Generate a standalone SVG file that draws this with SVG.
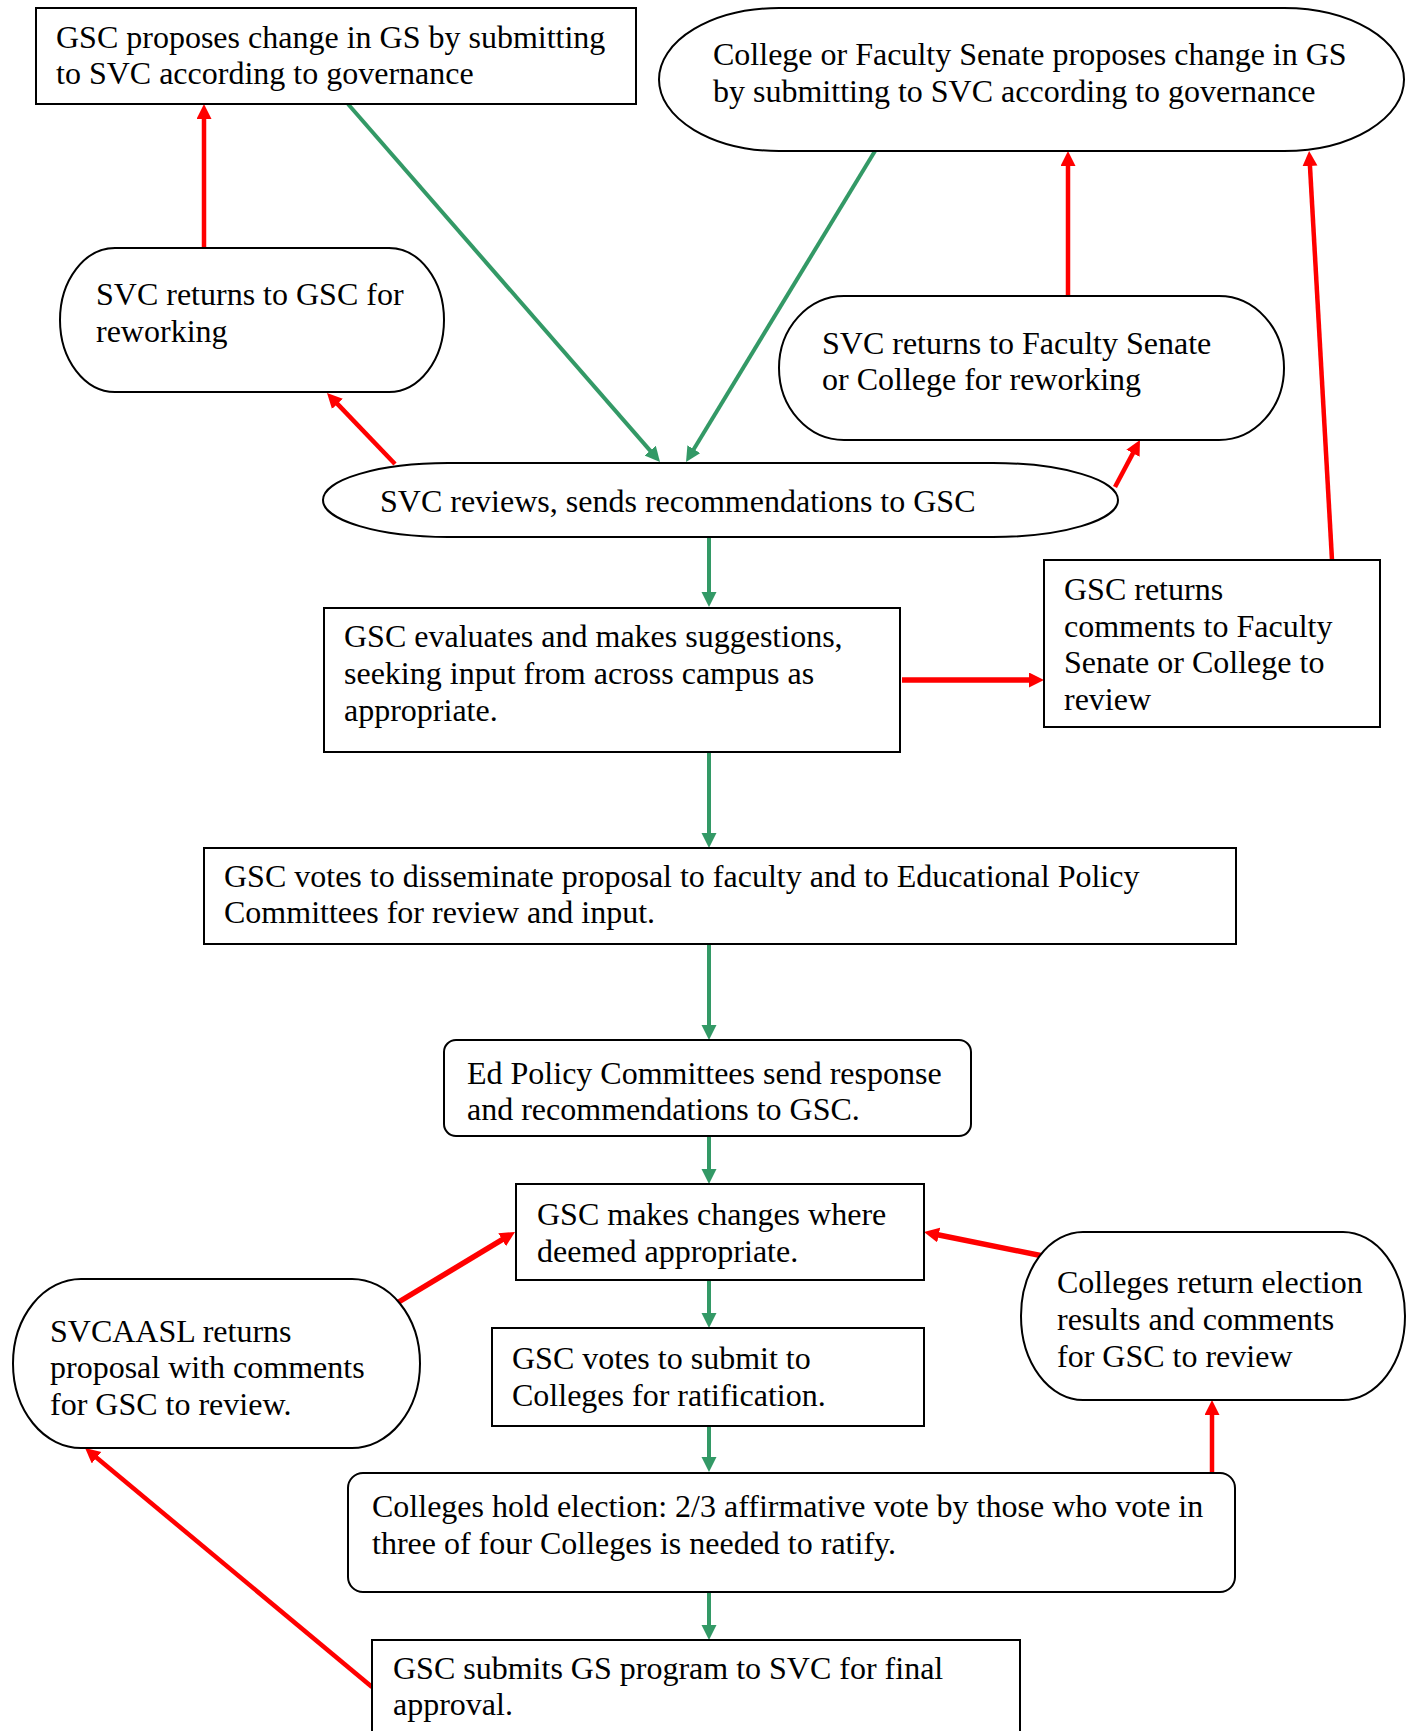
<svg xmlns="http://www.w3.org/2000/svg" width="1415" height="1731" viewBox="0 0 1415 1731">
<style>
.n{fill:#fff;stroke:#000;stroke-width:2}
text{font-family:"Liberation Serif","Times New Roman",serif;font-size:32px;fill:#000}
.g{stroke:#339966;stroke-width:4;fill:none}
.r{stroke:#ff0000;stroke-width:4.5;fill:none}
.rt{stroke:#ff0000;stroke-width:5.5;fill:none}
</style>
<defs>
<marker id="ag" markerUnits="userSpaceOnUse" markerWidth="16" markerHeight="16" refX="1" refY="7.5" orient="auto" viewBox="0 0 16 16"><path d="M0,0 L15,7.5 L0,15 z" fill="#339966"/></marker>
<marker id="ar" markerUnits="userSpaceOnUse" markerWidth="16" markerHeight="16" refX="1" refY="7.5" orient="auto" viewBox="0 0 16 16"><path d="M0,0 L15,7.5 L0,15 z" fill="#ff0000"/></marker>
</defs>
<rect width="1415" height="1731" fill="#fff"/>
<g id="connectors">
<line class="g" x1="348" y1="104" x2="650.8" y2="451.4" marker-end="url(#ag)"/>
<line class="g" x1="875" y1="151" x2="693.3" y2="450" marker-end="url(#ag)"/>
<line class="g" x1="709" y1="537" x2="709" y2="593" marker-end="url(#ag)"/>
<line class="g" x1="709" y1="752" x2="709" y2="834" marker-end="url(#ag)"/>
<line class="g" x1="709" y1="944" x2="709" y2="1026" marker-end="url(#ag)"/>
<line class="g" x1="709" y1="1137" x2="709" y2="1170" marker-end="url(#ag)"/>
<line class="g" x1="709" y1="1280" x2="709" y2="1314" marker-end="url(#ag)"/>
<line class="g" x1="709" y1="1426" x2="709" y2="1458" marker-end="url(#ag)"/>
<line class="g" x1="709" y1="1592" x2="709" y2="1626" marker-end="url(#ag)"/>
<line class="r" x1="204" y1="248" x2="204" y2="118" marker-end="url(#ar)"/>
<line class="r" x1="395" y1="464" x2="336.7" y2="403.1" marker-end="url(#ar)"/>
<line class="r" x1="1115" y1="487" x2="1133.4" y2="452.4" marker-end="url(#ar)"/>
<line class="r" x1="1068" y1="296" x2="1068" y2="165" marker-end="url(#ar)"/>
<line class="r" x1="1332" y1="560" x2="1309.9" y2="165" marker-end="url(#ar)"/>
<line class="rt" x1="902" y1="680" x2="1030" y2="680" marker-end="url(#ar)"/>
<line class="rt" x1="397" y1="1303" x2="503" y2="1239.2" marker-end="url(#ar)"/>
<line class="rt" x1="1043" y1="1256" x2="937.7" y2="1234.8" marker-end="url(#ar)"/>
<line class="r" x1="1212" y1="1472" x2="1212" y2="1414" marker-end="url(#ar)"/>
<line class="r" x1="372" y1="1687" x2="95.8" y2="1457" marker-end="url(#ar)"/>
</g>
<g id="n1">
<rect class="n" x="36" y="8" width="600" height="96"/>
<text x="56" y="48">GSC proposes change in GS by submitting</text>
<text x="56" y="84">to SVC according to governance</text>
</g>
<g id="n2">
<rect class="n" x="659" y="8" width="745" height="143" rx="120" ry="71.5"/>
<text x="713" y="65">College or Faculty Senate proposes change in GS</text>
<text x="713" y="102">by submitting to SVC according to governance</text>
</g>
<g id="n3">
<rect class="n" x="60" y="248" width="384" height="144" rx="55" ry="72"/>
<text x="96" y="305">SVC returns to GSC for</text>
<text x="96" y="342">reworking</text>
</g>
<g id="n4">
<rect class="n" x="779" y="296" width="505" height="144" rx="65" ry="72"/>
<text x="822" y="354">SVC returns to Faculty Senate</text>
<text x="822" y="390">or College for reworking</text>
</g>
<g id="n5">
<rect class="n" x="323" y="463" width="795" height="74" rx="125" ry="37"/>
<text x="380" y="512">SVC reviews, sends recommendations to GSC</text>
</g>
<g id="n6">
<rect class="n" x="324" y="608" width="576" height="144"/>
<text x="344" y="647">GSC evaluates and makes suggestions,</text>
<text x="344" y="684">seeking input from across campus as</text>
<text x="344" y="721">appropriate.</text>
</g>
<g id="n7">
<rect class="n" x="1044" y="560" width="336" height="167"/>
<text x="1064" y="600">GSC returns</text>
<text x="1064" y="637">comments to Faculty</text>
<text x="1064" y="673">Senate or College to</text>
<text x="1064" y="710">review</text>
</g>
<g id="n8">
<rect class="n" x="204" y="848" width="1032" height="96"/>
<text x="224" y="887">GSC votes to disseminate proposal to faculty and to Educational Policy</text>
<text x="224" y="923">Committees for review and input.</text>
</g>
<g id="n9">
<rect class="n" x="444" y="1040" width="527" height="96" rx="12" ry="12"/>
<text x="467" y="1084">Ed Policy Committees send response</text>
<text x="467" y="1120">and recommendations to GSC.</text>
</g>
<g id="n10">
<rect class="n" x="516" y="1184" width="408" height="96"/>
<text x="537" y="1225">GSC makes changes where</text>
<text x="537" y="1262">deemed appropriate.</text>
</g>
<g id="n11">
<rect class="n" x="492" y="1328" width="432" height="98"/>
<text x="512" y="1369">GSC votes to submit to</text>
<text x="512" y="1406">Colleges for ratification.</text>
</g>
<g id="n12">
<rect class="n" x="348" y="1473" width="887" height="119" rx="15" ry="15"/>
<text x="372" y="1517">Colleges hold election: 2/3 affirmative vote by those who vote in</text>
<text x="372" y="1554">three of four Colleges is needed to ratify.</text>
</g>
<g id="n13">
<rect class="n" x="372" y="1640" width="648" height="110"/>
<text x="393" y="1679">GSC submits GS program to SVC for final</text>
<text x="393" y="1715">approval.</text>
</g>
<g id="n14">
<rect class="n" x="13" y="1279" width="407" height="169" rx="68" ry="84.5"/>
<text x="50" y="1342">SVCAASL returns</text>
<text x="50" y="1378">proposal with comments</text>
<text x="50" y="1415">for GSC to review.</text>
</g>
<g id="n15">
<rect class="n" x="1021" y="1232" width="384" height="168" rx="62" ry="84"/>
<text x="1057" y="1293">Colleges return election</text>
<text x="1057" y="1330">results and comments</text>
<text x="1057" y="1367">for GSC to review</text>
</g>
</svg>
